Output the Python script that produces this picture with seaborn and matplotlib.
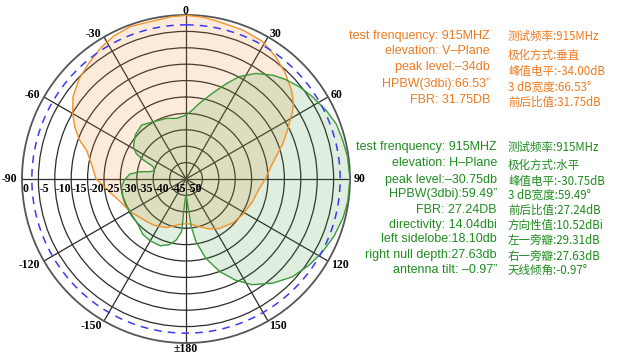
import numpy as np
import matplotlib
matplotlib.use("Agg")
import matplotlib.pyplot as plt
import seaborn as sns

# ---------------- data ----------------
v_angles = [-180, -170, -158, -145, -132, -120, -109, -100, -90, -81, -74, -70, -65, -60,
            -54, -47, -40, -33, -27, -20, -12, -5, 0, 6, 12, 21, 29, 36, 43, 50, 55, 58,
            64, 70, 76, 84, 90, 97, 109, 122, 133, 146, 155, 165, 172, 180]
v_db = [-36.4, -35.8, -34.0, -32.8, -31.9, -30.3, -28.8, -26.5, -22.6, -20.8, -18.5, -15.5,
        -12.6, -10.1, -7.4, -5.4, -3.9, -2.3, -1.2, -0.5, -0.8, -0.3, -0.1, -0.4, -1.0, -1.4,
        -2.0, -3.7, -5.7, -8.0, -10.0, -11.8, -15.5, -18.6, -21.7, -24.5, -25.8, -27.4, -28.6,
        -29.6, -30.4, -31.8, -33.2, -35.0, -36.0, -36.4]

h_angles = [-180, -177, -175.8, -175.3, -171, -166, -159, -150, -142, -134, -124, -115, -106,
            -97, -91, -85, -81, -78.5, -75, -69.3, -66, -63, -58.5, -49, -39.4, -29.7, -17.7,
            -8.7, 0, 5, 10, 17, 23, 27.5, 33.5, 40, 45, 51, 57, 64, 70, 76, 82, 90, 98, 104,
            111, 118, 125, 132.5, 140, 148, 154, 160, 166, 171, 173.8, 175, 177.5, 180]
h_db = [-45.0, -43.0, -39.0, -34.0, -31.2, -29.4, -28.2, -28.2, -28.6, -29.8, -30.2, -30.2,
        -30.0, -30.2, -31.2, -32.8, -35.8, -38.8, -40.0, -39.3, -35.8, -33.0, -31.2, -29.5,
        -28.7, -29.9, -30.6, -31.3, -30.5, -29.0, -26.6, -22.7, -18.4, -14.8, -11.4, -8.7,
        -7.1, -5.4, -4.0, -2.4, -1.2, -0.8, -0.3, 0.0, -0.2, -0.7, -1.6, -2.8, -4.2, -5.9,
        -8.6, -12.0, -15.7, -20.0, -25.1, -30.7, -35.5, -40.0, -43.5, -45.0]

half_power_db = -3
ring_values = [0, -5, -10, -15, -20, -25, -30, -35, -40, -45, -50]
ring_labels = ["0", "-5", "-10", "-15", "-20", "-25", "-30", "-35", "-40", "-45", "-50"]
spoke_angles = [0, 30, 60, 90, 120, 150, 180, -150, -120, -90, -60, -30]
spoke_labels = ["0", "30", "60", "90", "120", "150", "±180", "-150", "-120", "-90", "-60", "-30"]

v_info_en = ["test frenquency: 915MHZ", "elevation: V–Plane", "peak level:–34db",
             "HPBW(3dbi):66.53”", "FBR: 31.75DB"]
v_info_cn = ["测试频率:915MHz", "极化方式:垂直", "峰值电平:-34.00dB", "3 dB宽度:66.53°",
             "前后比值:31.75dB"]
h_info_en = ["test frenquency: 915MHZ", "elevation: H–Plane", "peak level:–30.75db",
             "HPBW(3dbi):59.49”", "FBR: 27.24DB", "directivity: 14.04dbi",
             "left sidelobe:18.10db", "right null depth:27.63db", "antenna tilt: –0.97”"]
h_info_cn = ["测试频率:915MHz", "极化方式:水平", "峰值电平:-30.75dB", "3 dB宽度:59.49°",
             "前后比值:27.24dB", "方向性值:10.52dBi", "左一旁瓣:29.31dB", "右一旁瓣:27.63dB",
             "天线倾角:-0.97°"]

# ---------------- layout / style ----------------
W, H = 623, 359
cx, cy, R = 186, 179, 164
ORANGE_LINE = "#f0922a"
ORANGE_TEXT = "#ee7a20"
GREEN_LINE = "#3a9a3a"
GREEN_TEXT = "#1f8c1f"

v_en_y = [36, 51, 67, 84, 100]
v_cn_y = [36, 55, 72, 87, 102]
h_en_y = [147, 163, 180, 194, 210, 225, 239, 255, 270]
h_cn_y = [147, 165, 181, 195, 210, 225, 240, 256, 270]

sns.set_theme(style="white")
plt.rcParams['font.family'] = ['Liberation Sans', 'DejaVu Sans']

fig = plt.figure(figsize=(W / 100, H / 100), dpi=100)
fig.patch.set_facecolor("white")
ax = fig.add_axes([(cx - R) / W, (H - cy - R) / H, 2 * R / W, 2 * R / H], projection="polar")
ax.set_theta_zero_location("N")
ax.set_theta_direction(-1)
ax.set_ylim(-50, 0)
ax.set_yticks(list(range(-45, 0, 5)))
ax.set_yticklabels([])
ax.set_xticks(np.deg2rad(np.arange(0, 360, 30)))
ax.set_xticklabels([])
ax.grid(True, color="#2b2b2b", lw=0.9)
ax.spines["polar"].set_color("#555555")
ax.spines["polar"].set_linewidth(1.3)
ax.set_facecolor("white")

vt = np.deg2rad(v_angles)
ht = np.deg2rad(h_angles)
ax.fill(vt, v_db, color=(240/255, 140/255, 40/255), alpha=0.17, lw=0, zorder=2)
ax.fill(ht, h_db, color=(60/255, 150/255, 60/255), alpha=0.16, lw=0, zorder=2)
sns.lineplot(x=vt, y=v_db, ax=ax, sort=False, estimator=None, color=ORANGE_LINE, lw=1.0, zorder=3)
sns.lineplot(x=ht, y=h_db, ax=ax, sort=False, estimator=None, color=GREEN_LINE, lw=1.0, zorder=3)
ax.set_xlabel("")
ax.set_ylabel("")

circ = np.linspace(0, 2 * np.pi, 721)
ax.plot(circ, np.full_like(circ, half_power_db), color="#3a3af0", lw=1.1, ls=(0, (5, 4)), zorder=3)

lab_font = dict(family="Liberation Serif", fontweight="bold", fontsize=8.5, color="black")
for v, lab in zip(ring_values, ring_labels):
    ax.annotate(lab, xy=(np.deg2rad(-90), v), xytext=(0.6, -3.0), textcoords="offset points",
                ha="left", va="top", annotation_clip=False, zorder=5, **lab_font)

PX = 72 / 100  # points per pixel
for a, lab in zip(spoke_angles, spoke_labels):
    th = np.deg2rad(a)
    s, c = np.sin(th), np.cos(th)
    w = 5.5 * len(lab)
    dx = s * 4 + (np.sign(s) * 0.5 * w if abs(s) > 0.1 else 0)
    dy = c * 4 - (2 if c < -0.1 else 0)
    ax.annotate(lab, xy=(th, 0), xytext=(dx * PX, dy * PX), textcoords="offset points",
                ha="center", va="center", annotation_clip=False, zorder=5, **lab_font)

en_font = dict(fontsize=9.0)
cn_font = dict(family=["Noto Sans CJK SC", "DejaVu Sans"], fontsize=8.3)
for t, y in zip(v_info_en, v_en_y):
    fig.text(490 / W, 1 - y / H, t, ha="right", va="center", color=ORANGE_TEXT, **en_font)
for t, y in zip(v_info_cn, v_cn_y):
    fig.text(508 / W, 1 - y / H, t, ha="left", va="center", color=ORANGE_TEXT, **cn_font)
for t, y in zip(h_info_en, h_en_y):
    fig.text(497 / W, 1 - y / H, t, ha="right", va="center", color=GREEN_TEXT, **en_font)
for t, y in zip(h_info_cn, h_cn_y):
    fig.text(508 / W, 1 - y / H, t, ha="left", va="center", color=GREEN_TEXT, **cn_font)

fig.savefig("out.png", dpi=100, facecolor="white")
